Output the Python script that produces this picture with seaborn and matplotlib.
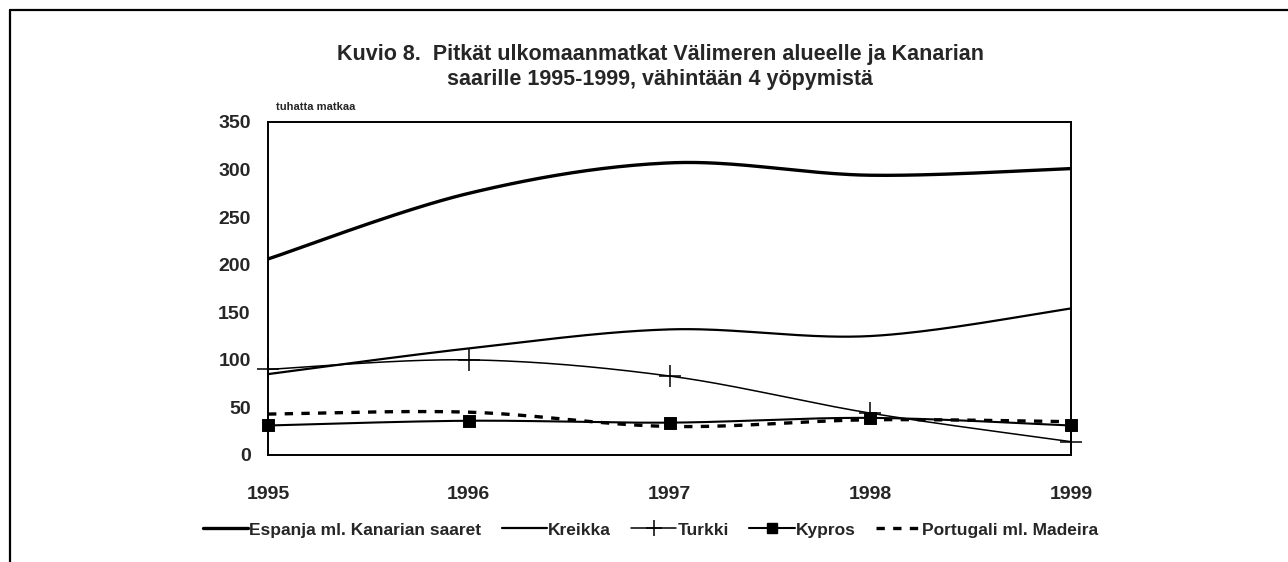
import numpy as np
import pandas as pd
import matplotlib
matplotlib.use('Agg')
import matplotlib.pyplot as plt
from matplotlib.lines import Line2D
import seaborn as sns

# data (thousand trips)
years = [1995, 1996, 1997, 1998, 1999]
espanja = [206, 275, 307, 294, 301]
kreikka = [85, 112, 132, 125, 154]
turkki = [90, 100, 83, 44, 14]
kypros = [31, 36, 34, 39, 31]
portugali = [43, 45, 30, 37, 35]

labels = ['Espanja ml. Kanarian saaret', 'Kreikka', 'Turkki', 'Kypros',
          'Portugali ml. Madeira']
yticks = [0, 50, 100, 150, 200, 250, 300, 350]


def smooth(xs, ys, n=40):
    # Excel-style smoothed line (Catmull-Rom as cubic Bezier)
    x = np.asarray(xs, float)
    y = np.asarray(ys, float)
    px = np.r_[x[0], x, x[-1]]
    py = np.r_[y[0], y, y[-1]]
    t = np.linspace(0, 1, n)
    out_x, out_y = [], []
    for i in range(1, len(x)):
        x0, x1, x2, x3 = px[i - 1], px[i], px[i + 1], px[i + 2]
        y0, y1, y2, y3 = py[i - 1], py[i], py[i + 1], py[i + 2]
        c1x, c1y = x1 + (x2 - x0) / 6, y1 + (y2 - y0) / 6
        c2x, c2y = x2 - (x3 - x1) / 6, y2 - (y3 - y1) / 6
        bx = (1 - t) ** 3 * x1 + 3 * (1 - t) ** 2 * t * c1x + 3 * (1 - t) * t ** 2 * c2x + t ** 3 * x2
        by = (1 - t) ** 3 * y1 + 3 * (1 - t) ** 2 * t * c1y + 3 * (1 - t) * t ** 2 * c2y + t ** 3 * y2
        out_x.extend(bx)
        out_y.extend(by)
    return np.array(out_x), np.array(out_y)


sns.set_style('white')
plt.rcParams['font.family'] = ['Liberation Sans', 'DejaVu Sans']
plt.rcParams['font.weight'] = 'bold'

fig = plt.figure(figsize=(12.88, 5.62), dpi=100)
ax = fig.add_axes([0.2081, 0.1904, 0.6234, 0.5926])

series = [espanja, kreikka, turkki, kypros, portugali]
widths = [2.4, 1.6, 1.1, 1.5, 2.4]
styles = ['-', '-', '-', '-', (0, (2.5, 2.5))]

for vals, lw, ls in zip(series, widths, styles):
    sx, sy = smooth(years, vals)
    sns.lineplot(x=sx, y=sy, ax=ax, color='black', linewidth=lw,
                 linestyle=ls, sort=False, estimator=None)

# markers
sns.scatterplot(x=years, y=turkki, ax=ax, marker='+', s=260, color='black',
                linewidth=1.1, zorder=5, clip_on=False)
sns.scatterplot(x=years, y=kypros, ax=ax, marker='s', s=70, color='black',
                edgecolor='black', zorder=5, clip_on=False)

ax.set_xlim(1995, 1999)
ax.set_ylim(0, 350)
ax.set_xticks(years)
ax.set_yticks(yticks)
ax.set_xticklabels([str(y) for y in years], fontsize=14, fontweight='bold')
ax.set_yticklabels([str(v) for v in yticks], fontsize=14, fontweight='bold')
ax.tick_params(axis='both', direction='inout', length=11, width=1.2,
               color='black')
ax.tick_params(axis='x', pad=17)
ax.tick_params(axis='y', pad=7)
for sp in ax.spines.values():
    sp.set_visible(True)
    sp.set_color('black')
    sp.set_linewidth(1.4)
ax.set_xlabel('')
ax.set_ylabel('')

fig.text(0.5125, 0.881, 'Kuvio 8.  Pitkät ulkomaanmatkat Välimeren alueelle ja Kanarian\n'
         'saarille 1995-1999, vähintään 4 yöpymistä',
         ha='center', va='center', fontsize=15.5, fontweight='bold',
         linespacing=1.25)
fig.text(0.2143, 0.809, 'tuhatta matkaa', ha='left', va='center',
         fontsize=8, fontweight='bold')

handles = [
    Line2D([], [], color='black', lw=2.4),
    Line2D([], [], color='black', lw=1.6),
    Line2D([], [], color='black', lw=1.1, marker='+', markersize=11, mew=1.1),
    Line2D([], [], color='black', lw=1.5, marker='s', markersize=7),
    Line2D([], [], color='black', lw=2.4, linestyle=(0, (2.5, 2.5))),
]
fig.legend(handles, labels, loc='center', bbox_to_anchor=(0.505, 0.057),
           ncol=5, frameon=False, handlelength=2.6,
           handletextpad=0.05, columnspacing=1.2,
           prop={'weight': 'bold', 'size': 12.5})

# outer frame (top and left edges)
fig.add_artist(Line2D([0.0078, 1.0], [0.982, 0.982], transform=fig.transFigure,
                      color='black', lw=1.6))
fig.add_artist(Line2D([0.0078, 0.0078], [0.0, 0.982], transform=fig.transFigure,
                      color='black', lw=1.6))

fig.savefig('out.png', dpi=100, facecolor='white')
